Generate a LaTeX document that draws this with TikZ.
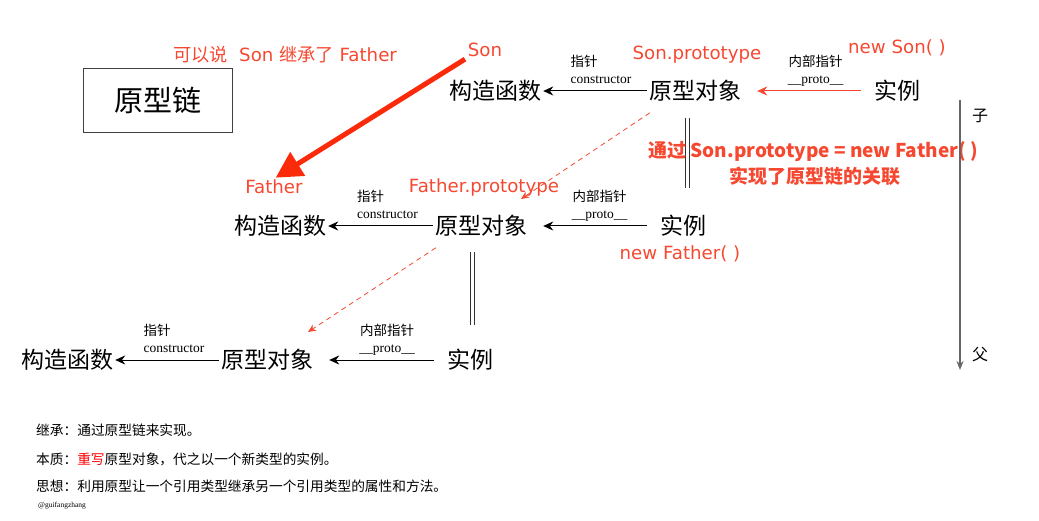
\documentclass[tikz,border=0pt]{standalone}
\usepackage{fontspec}
\setmainfont{DejaVu Sans}
\newfontfamily\cjk{Noto Sans CJK SC}
\newfontfamily\serif{Liberation Serif}
\usetikzlibrary{arrows.meta, positioning}
\definecolor{hlred}{RGB}{246,72,48}
\definecolor{bigred}{RGB}{250,42,10}
\newcommand{\setsz}[1]{\fontsize{#1}{#1}\selectfont}

\begin{document}
\begin{tikzpicture}[
    x=1pt, y=-1pt,
    term/.style={font=\cjk\setsz{23}, inner sep=2pt},
    tag/.style={font=\setsz{18.2}, text=hlred, inner sep=1pt},
    note/.style={font=\cjk\setsz{19}\bfseries, text=hlred, inner sep=1pt},
    lbl/.style={font=\fontsize{13.5}{17}\selectfont, inner sep=1pt},
    txt/.style={font=\cjk\setsz{13.7}, anchor=west, inner sep=0pt},
    arr/.style={-{Stealth[length=10pt, width=9pt]}, line width=1pt},
    parr/.style={arr, shorten >=14pt, shorten <=11pt},
    link/.style={-{Stealth[length=8pt, width=7pt]}, hlred, line width=0.8pt, dash pattern=on 5pt off 4pt},
    eq/.style={line width=0.9pt, black!80}
]
\useasboundingbox (0,0) rectangle (1039,521);

% title box
\node[draw=black!75, line width=0.9pt, minimum width=149pt, minimum height=64pt, font=\cjk\setsz{29}] (chainBox) at (158,100) {原型链};

% row 1: Son
\node[term] (ctorA) at (495,91) {构造函数};
\node[term] (protoA) at (695,91) {原型对象};
\node[term] (instA) at (897,91) {实例};
\node[tag] (sonLbl) at (485,50) {Son};
\node[tag] (sprotoLbl) at (697,55) {Son.prototype};
\node[tag] (newSonLbl) at (897,48) {new Son( )};
\node[tag] (sayLbl) at (285,55) {{\cjk 可以说}\ \ Son {\cjk 继承了} Father};

% row 2: Father
\node[term] (ctorB) at (280,226) {构造函数};
\node[term] (protoB) at (481,226) {原型对象};
\node[term] (instB) at (683,226) {实例};
\node[tag] (fatherLbl) at (274,187) {Father};
\node[tag] (fprotoLbl) at (484,187) {Father.prototype};
\node[tag] (newFatherLbl) at (680,254) {new Father( )};

% row 3
\node[term] (ctorC) at (67,360) {构造函数};
\node[term] (protoC) at (267,360) {原型对象};
\node[term] (instC) at (470,360) {实例};

% constructor pointers
\draw[arr] (protoA) -- (ctorA) node[midway, above=6pt, xshift=6pt, lbl, align=left] {{\cjk 指针}\\{\serif constructor}};
\draw[arr] (protoB) -- (ctorB) node[midway, above=6pt, xshift=7pt, lbl, align=left] {{\cjk 指针}\\{\serif constructor}};
\draw[arr] (protoC) -- (ctorC) node[midway, above=6pt, xshift=7pt, lbl, align=left] {{\cjk 指针}\\{\serif constructor}};

% __proto__ pointers
\draw[parr, hlred] (instA) -- (protoA) node[midway, above=3pt, xshift=8pt, lbl, text=black, align=center] {{\cjk 内部指针}\\{\serif \_\_proto\_\_}};
\draw[parr] (instB) -- (protoB) node[midway, above=3pt, xshift=6pt, lbl, align=center] {{\cjk 内部指针}\\{\serif \_\_proto\_\_}};
\draw[parr] (instC) -- (protoC) node[midway, above=3pt, xshift=7pt, lbl, align=center] {{\cjk 内部指针}\\{\serif \_\_proto\_\_}};

% prototype = instance
\foreach \x in {685,689} \draw[eq] (\x,118) -- (\x,188);
\foreach \x in {470,474} \draw[eq] (\x,252) -- (\x,325);
\node[note] (linkNote) at (813,152) {{\cjk 通过} Son.prototype = new Father( )};
\node[note, below=2pt of linkNote, xshift=2pt] (linkNote2) {实现了原型链的关联};

% chain links
\coordinate (tipA) at (521,199);
\coordinate (tipB) at (308,332);
\draw[link] (protoA.south west) ++(3,9) -- (tipA);
\draw[link] (protoB.south west) ++(3,9) -- (tipB);

% inheritance arrow
\draw[-{Triangle[length=26pt, width=27pt]}, bigred, line width=5pt, shorten <=2pt, shorten >=2pt] (sonLbl.south west) -- (fatherLbl.north);

% child to parent
\coordinate (topEnd) at (960,100);
\coordinate (botEnd) at (960,370);
\draw[-{Stealth[length=9pt, width=7pt]}, black!60, line width=1.5pt] (topEnd) -- (botEnd);
\node[font=\cjk\setsz{16}] (sonSide) at (980,116) {子};
\node[font=\cjk\setsz{16}] (fatherSide) at (980,354) {父};

% summary
\node[txt] (sumA) at (36,430) {继承：通过原型链来实现。};
\node[txt] (sumB) at (36,459) {本质：{\color{red}重写}原型对象，代之以一个新类型的实例。};
\node[txt] (sumC) at (36,486) {思想：利用原型让一个引用类型继承另一个引用类型的属性和方法。};
\node[txt, font=\serif\setsz{7.5}] (author) at (38,506) {@guifangzhang};
\end{tikzpicture}
\end{document}
